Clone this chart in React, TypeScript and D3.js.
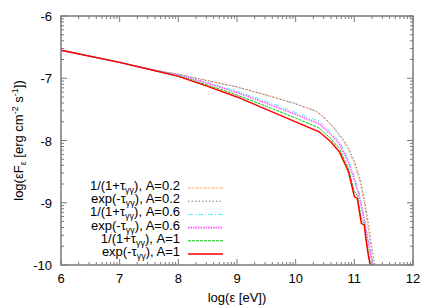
import React from "react";
import * as d3 from "d3";

// log(energy) grid and log(flux) per curve
const xExpA1 = [6, 7, 7.5, 8, 8.5, 9, 9.5, 10, 10.4, 10.6, 10.75, 10.9, 11.0, 11.05, 11.12, 11.17, 11.2, 11.24, 11.27];
const yExpA1 = [-6.55, -6.745, -6.855, -6.97, -7.13, -7.3, -7.5, -7.7, -7.86, -8.02, -8.19, -8.5, -8.9, -8.93, -9.33, -9.36, -9.6, -9.85, -10.0];

const xInvA1 = [6, 7, 7.5, 8, 8.5, 9, 9.5, 10, 10.4, 10.6, 10.75, 10.9, 11.0, 11.05, 11.12, 11.17, 11.2, 11.25, 11.28];
const yInvA1 = [-6.55, -6.745, -6.855, -6.965, -7.11, -7.27, -7.45, -7.64, -7.8, -7.97, -8.14, -8.45, -8.82, -8.88, -9.27, -9.33, -9.58, -9.87, -10.0];

const xExpA06 = [6, 7, 7.5, 8, 8.5, 9, 9.5, 10, 10.4, 10.6, 10.75, 10.9, 11.0, 11.08, 11.15, 11.22, 11.28, 11.31];
const yExpA06 = [-6.55, -6.745, -6.855, -6.95, -7.08, -7.23, -7.4, -7.58, -7.73, -7.9, -8.06, -8.35, -8.63, -8.88, -9.2, -9.55, -9.85, -10.0];

const xInvA06 = [6, 7, 7.5, 8, 8.5, 9, 9.5, 10, 10.4, 10.6, 10.75, 10.9, 11.0, 11.08, 11.15, 11.22, 11.28, 11.32];
const yInvA06 = [-6.55, -6.745, -6.855, -6.945, -7.07, -7.21, -7.37, -7.55, -7.69, -7.86, -8.02, -8.3, -8.57, -8.83, -9.15, -9.5, -9.82, -10.0];

const xInvA02 = [6, 7, 7.5, 8, 8.5, 9, 9.5, 10, 10.35, 10.5, 10.65, 10.8, 10.9, 11.0, 11.1, 11.18, 11.25, 11.3, 11.33];
const yInvA02 = [-6.55, -6.745, -6.855, -6.935, -7.04, -7.14, -7.27, -7.41, -7.53, -7.65, -7.8, -7.99, -8.15, -8.38, -8.68, -9.05, -9.5, -9.85, -10.0];

const xExpA02 = [6, 7, 7.5, 8, 8.5, 9, 9.5, 10, 10.35, 10.5, 10.65, 10.8, 10.9, 11.0, 11.1, 11.18, 11.26, 11.32, 11.35];
const yExpA02 = [-6.55, -6.745, -6.855, -6.935, -7.04, -7.14, -7.27, -7.41, -7.53, -7.64, -7.79, -7.97, -8.12, -8.33, -8.62, -8.98, -9.45, -9.85, -10.0];

const xTicks = [6, 7, 8, 9, 10, 11, 12];
const yTicks = [-6, -7, -8, -9, -10];

const series = [
  { kind: "inv", a: "0.2", xs: xInvA02, ys: yInvA02, color: "#f4a078", dash: "3,1,1,1,1,1", w: 1 },
  { kind: "exp", a: "0.2", xs: xExpA02, ys: yExpA02, color: "#808080", dash: "1.5,2", w: 1 },
  { kind: "inv", a: "0.6", xs: xInvA06, ys: yInvA06, color: "#5ff0f8", dash: "5,2,1,2", w: 1 },
  { kind: "exp", a: "0.6", xs: xExpA06, ys: yExpA06, color: "#ff55ff", dash: "1.5,1", w: 1.6 },
  { kind: "inv", a: "1", xs: xInvA1, ys: yInvA1, color: "#00c800", dash: "3,1", w: 1 },
  { kind: "exp", a: "1", xs: xExpA1, ys: yExpA1, color: "#ff0000", dash: "", w: 1.5 },
];

const W = 436;
const H = 305;
const m = { left: 61, right: 413, top: 16, bottom: 265 };
const font = "Liberation Sans, Arial, sans-serif";
const frame = "#7a7a7a";

function Label({ kind, a }: { kind: string; a: string }) {
  // small subscript, pushed down a few px like gnuplot's enhanced text
  const sub = (
    <tspan dy="3" fontSize="9">γγ</tspan>
  );
  const rest = <tspan dy="-3">), A={a}</tspan>;
  if (kind === "inv")
    return (
      <>
        1/(1+τ{sub}{rest}
      </>
    );
  return (
    <>
      exp(-τ{sub}{rest}
    </>
  );
}

export default function App() {
  const x = d3.scaleLinear().domain([6, 12]).range([m.left, m.right]);
  const y = d3.scaleLinear().domain([-10, -6]).range([m.bottom, m.top]);

  const minorX: number[] = [];
  for (let i = 6; i < 12; i++) for (let k = 2; k <= 9; k++) minorX.push(i + Math.log10(k));
  const minorY: number[] = [];
  for (let i = -10; i < -6; i++) for (let k = 2; k <= 9; k++) minorY.push(i + Math.log10(k));

  const line = (xs: number[], ys: number[]) =>
    d3.line<number>().x((_d, i) => x(xs[i])).y((d) => y(d))(ys) || "";

  const legX0 = 188;
  const legX1 = 223;
  const legY = d3.scaleLinear().domain([0, 5]).range([188, 254]);

  return (
    <svg width={W} height={H} style={{ position: "absolute", left: 0, top: 0, background: "#fff" }} fontFamily={font}>
      <defs>
        <clipPath id="plot">
          <rect x={m.left} y={m.top} width={m.right - m.left} height={m.bottom - m.top} />
        </clipPath>
      </defs>

      {/* ticks, mirrored on all sides */}
      <g stroke={frame} strokeWidth={1}>
        {xTicks.map((t) => (
          <g key={"xt" + t}>
            <line x1={x(t)} x2={x(t)} y1={m.bottom} y2={m.bottom - 6} />
            <line x1={x(t)} x2={x(t)} y1={m.top} y2={m.top + 6} />
          </g>
        ))}
        {minorX.map((t, i) => (
          <g key={"xm" + i}>
            <line x1={x(t)} x2={x(t)} y1={m.bottom} y2={m.bottom - 3} />
            <line x1={x(t)} x2={x(t)} y1={m.top} y2={m.top + 3} />
          </g>
        ))}
        {yTicks.map((t) => (
          <g key={"yt" + t}>
            <line x1={m.left} x2={m.left + 6} y1={y(t)} y2={y(t)} />
            <line x1={m.right} x2={m.right - 6} y1={y(t)} y2={y(t)} />
          </g>
        ))}
        {minorY.map((t, i) => (
          <g key={"ym" + i}>
            <line x1={m.left} x2={m.left + 3} y1={y(t)} y2={y(t)} />
            <line x1={m.right} x2={m.right - 3} y1={y(t)} y2={y(t)} />
          </g>
        ))}
      </g>

      {/* curves */}
      <g clipPath="url(#plot)" fill="none">
        {series.map((s, i) => (
          <path key={i} d={line(s.xs, s.ys)} stroke={s.color} strokeWidth={s.w} strokeDasharray={s.dash || undefined} />
        ))}
      </g>

      <rect x={m.left} y={m.top} width={m.right - m.left} height={m.bottom - m.top} fill="none" stroke={frame} strokeWidth={1.5} />

      {/* tick labels */}
      <g fontSize="13" fill="#000">
        {xTicks.map((t) => (
          <text key={"xl" + t} x={x(t)} y={m.bottom + 18} textAnchor="middle">{t}</text>
        ))}
        {yTicks.map((t) => (
          <text key={"yl" + t} x={m.left - 9} y={y(t) + 5} textAnchor="end">{t}</text>
        ))}
      </g>

      {/* axis titles */}
      <text x={(m.left + m.right) / 2} y={302} textAnchor="middle" fontSize="13">log(ε [eV])</text>
      <text transform={`translate(23, ${(m.top + m.bottom) / 2}) rotate(-90)`} textAnchor="middle" fontSize="13">
        log(εF<tspan dy="3" fontSize="9">ε</tspan>
        <tspan dy="-3"> [erg cm</tspan>
        <tspan dy="-5" fontSize="9">-2</tspan>
        <tspan dy="5"> s</tspan>
        <tspan dy="-5" fontSize="9">-1</tspan>
        <tspan dy="5">])</tspan>
      </text>

      {/* legend */}
      <g>
        {series.map((s, i) => (
          <g key={"lg" + i}>
            <text x={180} y={legY(i) + 2} textAnchor="end" fontSize="13">
              <Label kind={s.kind} a={s.a} />
            </text>
            <line x1={legX0} x2={legX1} y1={legY(i)} y2={legY(i)} stroke={s.color} strokeWidth={s.w} strokeDasharray={s.dash || undefined} />
          </g>
        ))}
      </g>
    </svg>
  );
}
